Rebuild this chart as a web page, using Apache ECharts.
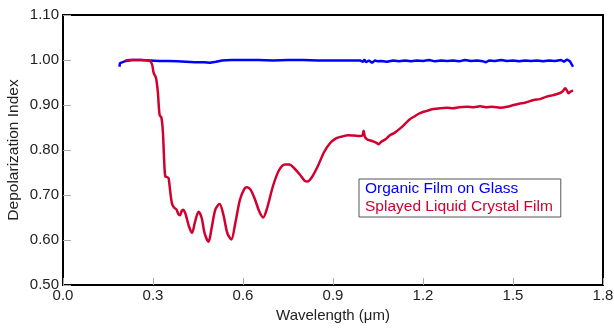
<!DOCTYPE html>
<html><head><meta charset="utf-8">
<script src="https://cdn.jsdelivr.net/npm/echarts@6/dist/echarts.min.js"></script>
<style>html,body{margin:0;padding:0;background:#fff}#c{width:614px;height:328px}</style>
</head><body><div id="c"></div>
<script>
const seriesNames = ["Organic Film on Glass", "Splayed Liquid Crystal Film"];
const xTicks = [0.0, 0.3, 0.6, 0.9, 1.2, 1.5, 1.8];
const yTicks = [0.5, 0.6, 0.7, 0.8, 0.9, 1.0, 1.1];
const organicFilm = [[0.188,0.985],[0.19,0.993],[0.195,0.997],[0.21,0.998],[0.23,1.0],[0.26,1.0],[0.29,0.999],[0.32,0.998],[0.35,0.998],[0.38,0.997],[0.41,0.996],[0.44,0.995],[0.47,0.995],[0.49,0.994],[0.51,0.996],[0.53,0.999],[0.56,1.0],[0.6,1.0],[0.65,1.0],[0.7,0.999],[0.75,1.0],[0.8,1.0],[0.85,0.999],[0.9,0.999],[0.95,0.999],[0.99,0.999],[1.0,0.996],[1.005,1.001],[1.01,0.995],[1.02,0.999],[1.03,0.994],[1.04,0.999],[1.05,0.997],[1.06,0.998],[1.08,0.996],[1.1,0.999],[1.12,0.997],[1.14,0.999],[1.16,0.997],[1.18,0.999],[1.2,0.998],[1.22,1.0],[1.24,0.997],[1.26,0.999],[1.28,0.998],[1.3,0.999],[1.32,0.997],[1.34,1.0],[1.36,0.998],[1.38,0.999],[1.4,0.997],[1.41,0.995],[1.42,0.999],[1.44,0.998],[1.46,1.0],[1.48,0.998],[1.5,0.999],[1.52,0.997],[1.54,0.999],[1.56,0.998],[1.58,0.999],[1.6,0.997],[1.62,0.999],[1.64,0.998],[1.66,1.0],[1.67,0.996],[1.68,1.001],[1.69,0.997],[1.695,0.993],[1.70,0.985]];
const splayedLC = [[0.208,0.999],[0.22,1.0],[0.24,1.0],[0.26,1.0],[0.28,0.999],[0.29,0.998],[0.297,0.99],[0.302,0.972],[0.31,0.96],[0.316,0.93],[0.322,0.878],[0.328,0.872],[0.333,0.84],[0.337,0.78],[0.341,0.741],[0.347,0.74],[0.352,0.737],[0.357,0.71],[0.363,0.682],[0.37,0.672],[0.378,0.668],[0.385,0.657],[0.39,0.655],[0.396,0.665],[0.401,0.667],[0.406,0.662],[0.411,0.652],[0.42,0.63],[0.43,0.616],[0.44,0.64],[0.452,0.663],[0.462,0.65],[0.472,0.615],[0.485,0.596],[0.495,0.625],[0.508,0.668],[0.522,0.68],[0.535,0.655],[0.548,0.615],[0.561,0.601],[0.575,0.64],[0.59,0.69],[0.605,0.714],[0.613,0.717],[0.625,0.712],[0.64,0.69],[0.655,0.662],[0.667,0.65],[0.68,0.67],[0.7,0.72],[0.72,0.755],[0.74,0.768],[0.755,0.768],[0.77,0.76],[0.79,0.745],[0.805,0.732],[0.815,0.73],[0.83,0.74],[0.85,0.765],[0.87,0.795],[0.89,0.815],[0.91,0.826],[0.93,0.83],[0.95,0.833],[0.97,0.832],[0.99,0.831],[0.998,0.832],[1.002,0.843],[1.006,0.83],[1.013,0.824],[1.03,0.82],[1.045,0.816],[1.052,0.813],[1.06,0.818],[1.075,0.824],[1.09,0.833],[1.105,0.838],[1.124,0.848],[1.14,0.858],[1.155,0.868],[1.17,0.874],[1.19,0.882],[1.213,0.887],[1.235,0.891],[1.258,0.893],[1.28,0.894],[1.3,0.893],[1.32,0.895],[1.347,0.896],[1.37,0.895],[1.39,0.897],[1.41,0.895],[1.43,0.896],[1.458,0.894],[1.48,0.896],[1.502,0.9],[1.52,0.903],[1.54,0.905],[1.569,0.911],[1.59,0.913],[1.61,0.918],[1.635,0.922],[1.65,0.925],[1.665,0.93],[1.674,0.937],[1.68,0.932],[1.685,0.926],[1.692,0.93],[1.70,0.932]];

const chart = echarts.init(document.getElementById('c'), null, {renderer:'canvas'});
const font = 'Liberation Sans, Arial, sans-serif';
chart.setOption({
  animation: false,
  textStyle: {fontFamily: font},
  grid: {left: 63, right: 11, top: 15, bottom: 43, show: true, borderColor: '#000', borderWidth: 2,
         outerBoundsMode: 'none', containLabel: false},
  legend: {
    left: 359, top: 179, orient: 'vertical', icon: 'none', itemWidth: 0, itemHeight: 12, itemGap: 2,
    borderColor: '#555', borderWidth: 1, padding: [2, 8, 2, 1],
    textStyle: {fontSize: 15.5, fontFamily: font},
    data: [
      {name: seriesNames[0], textStyle: {color: '#0000ff'}},
      {name: seriesNames[1], textStyle: {color: '#d0002f'}}
    ]
  },
  xAxis: {
    type: 'value', min: xTicks[0], max: xTicks[xTicks.length-1], interval: 0.3,
    name: 'Wavelength (μm)', nameLocation: 'middle', nameGap: 23, nameMoveOverlap: false,
    nameTextStyle: {fontSize: 15, color: '#222', fontFamily: font},
    axisLine: {show: true, lineStyle: {color: '#000', width: 2}},
    axisTick: {show: true, inside: true, length: 7, lineStyle: {color: '#aaa'}},
    axisLabel: {fontSize: 15, color: '#222', margin: 3, formatter: v => v.toFixed(1)},
    splitLine: {show: false}
  },
  yAxis: {
    type: 'value', min: yTicks[0], max: yTicks[yTicks.length-1], interval: 0.1,
    name: 'Depolarization Index', nameLocation: 'middle', nameGap: 41, nameMoveOverlap: false,
    nameTextStyle: {fontSize: 15.5, color: '#222', fontFamily: font},
    axisLine: {show: true, lineStyle: {color: '#000', width: 2}},
    axisTick: {show: true, inside: true, length: 8, lineStyle: {color: '#aaa'}},
    axisLabel: {fontSize: 15, color: '#222', margin: 4, formatter: v => v.toFixed(2)},
    splitLine: {show: false}
  },
  series: [
    {name: seriesNames[0], type: 'line', data: organicFilm, showSymbol: false, symbol: 'none',
     lineStyle: {color: '#0000ff', width: 2.5}, itemStyle: {color: '#0000ff'}},
    {name: seriesNames[1], type: 'line', data: splayedLC, showSymbol: false, symbol: 'none', smooth: 0.3,
     lineStyle: {color: '#d0002f', width: 2.5}, itemStyle: {color: '#d0002f'}}
  ]
});
</script></body></html>
